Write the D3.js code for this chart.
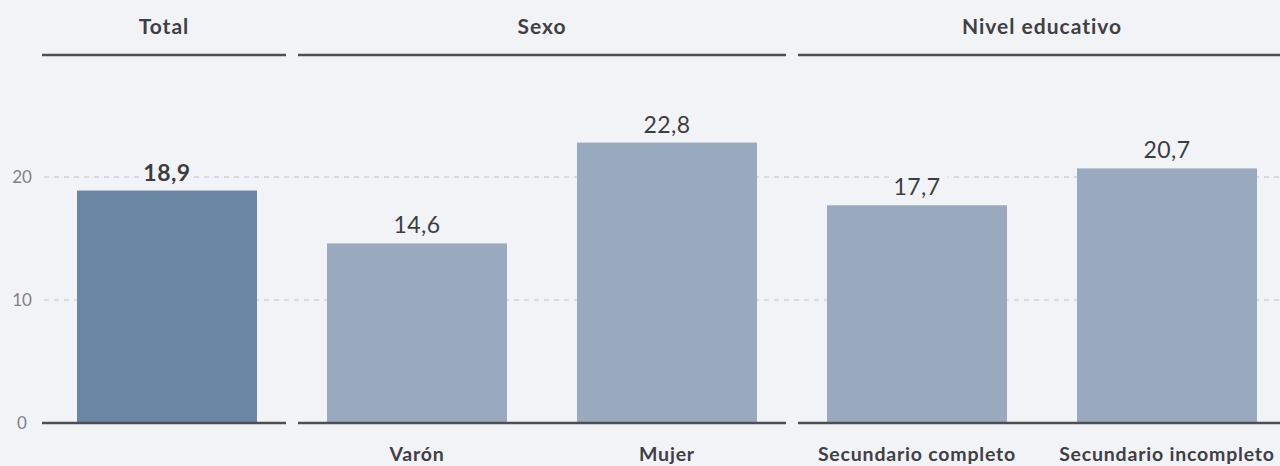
<!DOCTYPE html>
<html>
<head>
<meta charset="utf-8">
<script src="https://cdn.jsdelivr.net/npm/d3@7"></script>
<style>
  html, body { margin: 0; padding: 0; background: #f1f3f7; }
  svg { display: block; font-family: Lato, "Open Sans", sans-serif; }
</style>
</head>
<body>
<div id="chart"></div>
<script>
// Data
const categories = ['Total', 'Varón', 'Mujer', 'Secundario completo', 'Secundario incompleto'];
const catLabels = ['', 'Varón', 'Mujer', 'Secundario completo', 'Secundario incompleto'];
const values = [18.9, 14.6, 22.8, 17.7, 20.7];
const groups = ['Total', 'Sexo', 'Nivel educativo'];
const groupSizes = [1, 2, 2];
const yTicks = [0, 10, 20];

const width = 1280;
const height = 466;
const y0 = 423;

const svg = d3.select('#chart')
  .append('svg')
  .attr('width', width)
  .attr('height', height);

const x = d3.scaleBand()
  .domain(categories)
  .range([42, 42 + 250 * categories.length])
  .paddingInner(0.28)
  .paddingOuter(0.14);

const y = d3.scaleLinear()
  .domain([0, 10])
  .range([y0, y0 - 123]);

const fmt = v => d3.format('.1f')(v).replace('.', ',');

// panel extents
let start = 0;
const panels = groups.map((name, k) => {
  const first = categories[start];
  const last = categories[start + groupSizes[k] - 1];
  start += groupSizes[k];
  const step = x.step();
  const left = x(first) - (step - x.bandwidth()) / 2;
  const right = x(last) + x.bandwidth() + (step - x.bandwidth()) / 2;
  return { name, x1: left + (k === 0 ? 0 : 6), x2: right - 6 };
});

// gridlines
svg.append('g')
  .selectAll('line')
  .data(yTicks.filter(t => t > 0))
  .join('line')
  .attr('x1', 44)
  .attr('x2', width)
  .attr('y1', d => y(d))
  .attr('y2', d => y(d))
  .attr('stroke', '#cfd2d7')
  .attr('stroke-width', 1.5)
  .attr('stroke-dasharray', '5,5');

// y tick labels
svg.append('g')
  .selectAll('text')
  .data(yTicks)
  .join('text')
  .attr('x', 22)
  .attr('y', d => y(d))
  .attr('dy', '0.35em')
  .attr('text-anchor', 'middle')
  .attr('fill', '#828286')
  .style('font-size', '17px')
  .text(d => d);

// value label halos (under the bars, so they only hide gridlines)
const labelX = (d, i) => x(categories[i]) + x.bandwidth() / 2;
const labelY = d => y(d) - 10;

function valueLabels(sel) {
  return sel.selectAll('text')
    .data(values)
    .join('text')
    .attr('x', labelX)
    .attr('y', labelY)
    .attr('text-anchor', 'middle')
    .style('font-size', '23px')
    .style('letter-spacing', '0.5px')
    .style('font-weight', (d, i) => i === 0 ? 700 : 400)
    .text(d => fmt(d));
}

valueLabels(svg.append('g'))
  .attr('fill', '#f1f3f7')
  .attr('stroke', '#f1f3f7')
  .attr('stroke-width', 12);

// bars
svg.append('g')
  .selectAll('rect')
  .data(values)
  .join('rect')
  .attr('x', (d, i) => x(categories[i]))
  .attr('width', x.bandwidth())
  .attr('y', d => y(d))
  .attr('height', d => y0 - y(d))
  .attr('fill', (d, i) => i === 0 ? '#6b87a3' : '#99a9be');

valueLabels(svg.append('g'))
  .attr('fill', '#3d3d40');

// panel header lines + baselines
const lineColor = '#4d4e52';
svg.append('g')
  .selectAll('line')
  .data(panels)
  .join('line')
  .attr('x1', d => d.x1)
  .attr('x2', d => d.x2)
  .attr('y1', 55)
  .attr('y2', 55)
  .attr('stroke', lineColor)
  .attr('stroke-width', 2.5);

svg.append('g')
  .selectAll('line')
  .data(panels)
  .join('line')
  .attr('x1', d => d.x1)
  .attr('x2', d => d.x2)
  .attr('y1', y0)
  .attr('y2', y0)
  .attr('stroke', lineColor)
  .attr('stroke-width', 2.5);

// panel titles
svg.append('g')
  .selectAll('text')
  .data(panels)
  .join('text')
  .attr('x', d => (d.x1 + d.x2) / 2)
  .attr('y', 34)
  .attr('text-anchor', 'middle')
  .attr('fill', '#404044')
  .style('font-size', '21px')
  .style('letter-spacing', '1px')
  .style('font-weight', 700)
  .text(d => d.name);

// category labels
svg.append('g')
  .selectAll('text')
  .data(catLabels)
  .join('text')
  .attr('x', (d, i) => x(categories[i]) + x.bandwidth() / 2)
  .attr('y', 461)
  .attr('text-anchor', 'middle')
  .attr('fill', '#404044')
  .style('font-size', '19.5px')
  .style('letter-spacing', '0.8px')
  .style('font-weight', 700)
  .text(d => d);
</script>
</body>
</html>
